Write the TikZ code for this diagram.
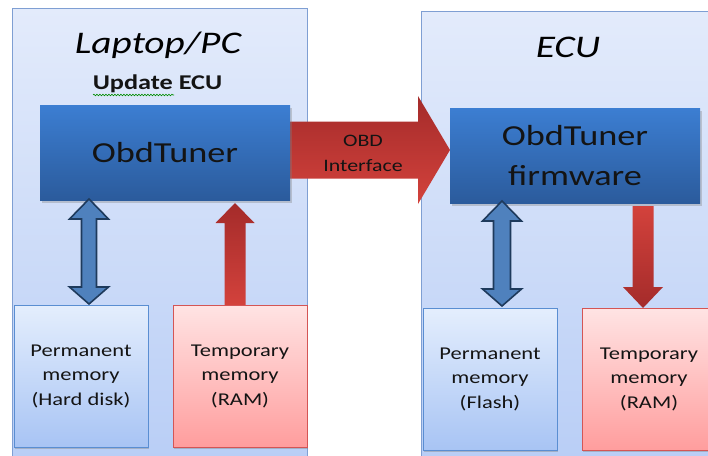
\documentclass[tikz,border=0pt]{standalone}
\usepackage{fontspec}
\setmainfont{Carlito}
\usepackage{graphicx}
\usetikzlibrary{shadows,decorations.pathmorphing}
\definecolor{contTop}{HTML}{E3EBFB}
\definecolor{contBot}{HTML}{B9CEF6}
\definecolor{contLine}{HTML}{7F9FD3}
\definecolor{obdTop}{HTML}{3C7ED2}
\definecolor{obdBot}{HTML}{2B5B9C}
\definecolor{permTop}{HTML}{E4EEFD}
\definecolor{permBot}{HTML}{A8C4F4}
\definecolor{permLine}{HTML}{5A8ED2}
\definecolor{tempTop}{HTML}{FFE4E4}
\definecolor{tempBot}{HTML}{FF9D9D}
\definecolor{tempLine}{HTML}{D45555}
\definecolor{redDark}{HTML}{A42B2A}
\definecolor{redLight}{HTML}{D3423C}
\definecolor{blueArrow}{HTML}{4F81BD}
\definecolor{blueEdge}{HTML}{1E3A5C}
\definecolor{txt}{HTML}{141414}
\newcommand{\sx}[1]{\scalebox{1.25}[1]{#1}}
% vertical double arrow: style, cx, ytop, ybot, shaft half, head half
\newcommand{\dblarr}[6]{\path[#1] (#2,#3) -- (#2+#6,#3+20) -- (#2+#5,#3+20) -- (#2+#5,#4-17) -- (#2+#6,#4-17) -- (#2,#4) -- (#2-#6,#4-17) -- (#2-#5,#4-17) -- (#2-#5,#3+20) -- (#2-#6,#3+20) -- cycle;}
% up arrow: style, cx, ytip, ybot, shaft half, head half
\newcommand{\uparr}[6]{\path[#1] (#2,#3) -- (#2+#6,#3+20) -- (#2+#5,#3+20) -- (#2+#5,#4) -- (#2-#5,#4) -- (#2-#5,#3+20) -- (#2-#6,#3+20) -- cycle;}
% down arrow: style, cx, ytop, ytip, shaft half, head half
\newcommand{\dnarr}[6]{\path[#1] (#2,#4) -- (#2+#6,#4-21) -- (#2+#5,#4-21) -- (#2+#5,#3) -- (#2-#5,#3) -- (#2-#5,#4-21) -- (#2-#6,#4-21) -- cycle;}
\begin{document}
\begin{tikzpicture}[x=1pt,y=-1pt,
  container/.style={draw=contLine, line width=1pt, top color=contTop, bottom color=contBot, inner sep=0pt},
  obdbox/.style={top color=obdTop, bottom color=obdBot, text=txt, inner sep=0pt,
    drop shadow={shadow xshift=1.5pt, shadow yshift=-2.5pt, opacity=0.35}},
  permbox/.style={draw=permLine, line width=0.8pt, top color=permTop, bottom color=permBot, text=txt,
    align=center, inner sep=0pt, minimum width=134, minimum height=142,
    font=\fontsize{18}{24.5}\selectfont,
    drop shadow={shadow xshift=0.8pt, shadow yshift=-1.5pt, opacity=0.4}},
  tempbox/.style={permbox, draw=tempLine, top color=tempTop, bottom color=tempBot},
  bluearrow/.style={fill=blueArrow, draw=blueEdge, line width=1.6pt, line join=miter},
  redup/.style={top color=redDark, bottom color=redLight},
  reddown/.style={top color=redLight, bottom color=redDark},
  titletext/.style={font=\fontsize{31.5}{36}\selectfont\itshape, text=black, anchor=base, inner sep=0pt}
]
\useasboundingbox (0,0) rectangle (708,455);
\clip (0,0) rectangle (708,455);
\fill[white] (0,0) rectangle (708,455);

% containers
\node[container, minimum width=295, minimum height=452] (lc) at (159.5,234) {};
\node[container, minimum width=300, minimum height=449] (rc) at (571,235.5) {};

% big OBD interface arrow
\path[redup] (290,121.5) -- (418,121.5) -- (418,96) -- (450,150) -- (418,204) -- (418,178.5) -- (290,178.5) -- cycle;
\node[align=center, text=txt, font=\fontsize{17.5}{25}\selectfont, inner sep=0pt] (obdlabel) at (363,153.5) {\sx{OBD}\\\sx{Interface}};

% titles
\node[titletext] (ltitle) at (158,53) {\sx{Laptop/PC}};
\node[font=\fontsize{21}{25}\selectfont\bfseries, text=txt, anchor=base, inner sep=0pt] (lsub) at (157.5,89) {\sx{Update ECU}};
\draw[green!55!black, line width=0.6pt, decorate, decoration={snake, amplitude=0.8pt, segment length=3pt}] (93,95) -- (174,95);
\node[titletext] (rtitle) at (568,57) {\sx{ECU}};

% ObdTuner boxes
\node[obdbox, minimum width=250, minimum height=95, font=\fontsize{29}{34}\selectfont] (lobd) at (165,152.5) {\sx{ObdTuner}};
\node[obdbox, minimum width=250, minimum height=95, align=center, font=\fontsize{29}{40}\selectfont] (robd) at (575,155.5) {\sx{ObdTuner}\\\sx{firmware}};

% small arrows
\dblarr{bluearrow}{89}{199}{304}{7.5}{19.5}
\uparr{redup}{235}{203}{305}{10.5}{19.5}
\dblarr{bluearrow}{502}{201}{306}{8.5}{19.5}
\dnarr{reddown}{643}{206}{308}{10.5}{20}

% memory boxes
\node[permbox] (lperm) at (81,376) {\sx{Permanent}\\\sx{memory}\\\sx{(Hard disk)}};
\node[tempbox] (ltemp) at (240,376) {\sx{Temporary}\\\sx{memory}\\\sx{(RAM)}};
\node[permbox] (rperm) at (490,379) {\sx{Permanent}\\\sx{memory}\\\sx{(Flash)}};
\node[tempbox] (rtemp) at (649,379) {\sx{Temporary}\\\sx{memory}\\\sx{(RAM)}};
\end{tikzpicture}
\end{document}
